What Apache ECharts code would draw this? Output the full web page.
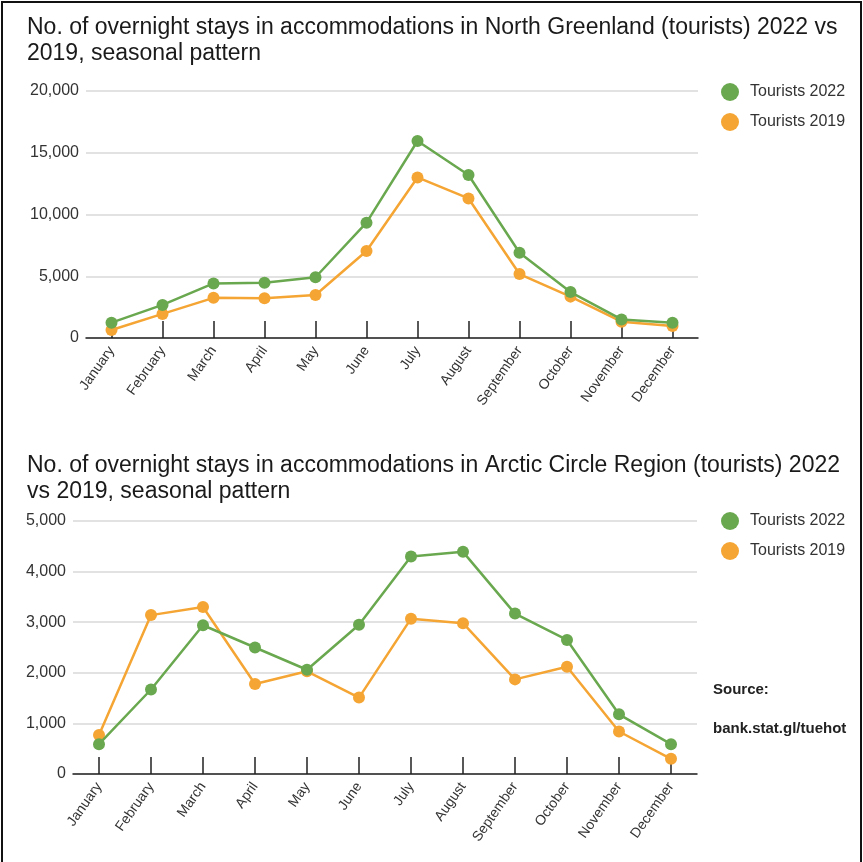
<!DOCTYPE html>
<html>
<head>
<meta charset="utf-8">
<title>Overnight stays in accommodations, 2022 vs 2019</title>
<script src="https://cdn.jsdelivr.net/npm/echarts@6/dist/echarts.min.js"></script>
<style>
  html, body { margin: 0; padding: 0; background: #fff; }
  #wrap { position: relative; width: 863px; height: 862px; }
  #chart { position: absolute; left: 0; top: 0; width: 863px; height: 862px; }
  #frame {
    position: absolute; left: 1px; top: 1px; width: 857px; height: 870px;
    border: 2px solid #111; pointer-events: none;
  }
</style>
</head>
<body>
<div id="wrap">
  <div id="chart"></div>
  <div id="frame"></div>
</div>
<script>
// Months shown on both category axes
const months = ['January', 'February', 'March', 'April', 'May', 'June',
  'July', 'August', 'September', 'October', 'November', 'December'];

// North Greenland, overnight stays (tourists)
const northGreenland2022 = [1240, 2680, 4420, 4480, 4920, 9340, 15950, 13200, 6900, 3720, 1500, 1230];
const northGreenland2019 = [650, 1950, 3250, 3220, 3480, 7040, 13000, 11300, 5180, 3350, 1320, 970];

// Arctic Circle Region, overnight stays (tourists)
const arcticCircle2022 = [590, 1670, 2940, 2500, 2060, 2950, 4300, 4390, 3170, 2650, 1180, 590];
const arcticCircle2019 = [770, 3140, 3300, 1780, 2030, 1510, 3070, 2980, 1870, 2120, 840, 300];

// Axis ranges
const northTicks = { min: 0, max: 20000, interval: 5000 };
const arcticTicks = { min: 0, max: 5000, interval: 1000 };

const seriesNames = ['Tourists 2022', 'Tourists 2019'];
const GREEN = '#6aa84f';
const ORANGE = '#f5a533';
const FONT = '"Liberation Sans", Arial, sans-serif';

const chart = echarts.init(document.getElementById('chart'), null, { renderer: 'canvas' });

function xAxisFor(gridIndex) {
  return {
    type: 'category',
    gridIndex,
    data: months,
    boundaryGap: true,
    axisLine: { show: true, lineStyle: { color: '#222', width: 1.5 } },
    axisTick: { show: true, inside: true, alignWithLabel: true, length: 17, lineStyle: { color: '#222', width: 1.5 } },
    axisLabel: { rotate: 55, fontFamily: FONT, fontSize: 14, color: '#333', margin: 10, interval: 0 },
    splitLine: { show: false }
  };
}

function yAxisFor(gridIndex, ticks) {
  return {
    type: 'value',
    gridIndex,
    min: ticks.min, max: ticks.max, interval: ticks.interval,
    axisLine: { show: false },
    axisTick: { show: false },
    axisLabel: {
      fontFamily: FONT, fontSize: 16, color: '#333', margin: 7,
      formatter: v => v.toLocaleString('en-US')
    },
    splitLine: { show: true, lineStyle: { color: '#d9d9d9', width: 1.5 } }
  };
}

function lineSeries(name, data, color, axisIndex, z) {
  return {
    name, type: 'line', data,
    xAxisIndex: axisIndex, yAxisIndex: axisIndex,
    symbol: 'circle', symbolSize: 12,
    z,
    lineStyle: { color, width: 2.5 },
    itemStyle: { color },
    emphasis: { disabled: true }
  };
}

function legendAt(top) {
  return {
    orient: 'vertical', left: 716, top,
    data: seriesNames,
    icon: 'circle', itemWidth: 18, itemHeight: 18, itemGap: 12,
    textStyle: { fontFamily: FONT, fontSize: 16, color: '#333', padding: [0, 0, 0, 6] },
    selectedMode: false
  };
}

chart.setOption({
  animation: false,
  color: [GREEN, ORANGE],
  title: [
    {
      text: 'No. of overnight stays in accommodations in North Greenland (tourists) 2022 vs\n2019, seasonal pattern',
      left: 22, top: 10,
      textStyle: { fontFamily: FONT, fontSize: 23, fontWeight: 'normal', color: '#1a1a1a', lineHeight: 26 }
    },
    {
      text: 'No. of overnight stays in accommodations in Arctic Circle Region (tourists) 2022\nvs 2019, seasonal pattern',
      left: 22, top: 448,
      textStyle: { fontFamily: FONT, fontSize: 23, fontWeight: 'normal', color: '#1a1a1a', lineHeight: 26 }
    }
  ],
  legend: [legendAt(78), legendAt(507)],
  grid: [
    { left: 86, right: 165, top: 91, height: 247 },
    { left: 73, right: 166, top: 521, height: 253 }
  ],
  xAxis: [xAxisFor(0), xAxisFor(1)],
  yAxis: [yAxisFor(0, northTicks), yAxisFor(1, arcticTicks)],
  series: [
    lineSeries(seriesNames[1], northGreenland2019, ORANGE, 0, 2),
    lineSeries(seriesNames[0], northGreenland2022, GREEN, 0, 3),
    lineSeries(seriesNames[1], arcticCircle2019, ORANGE, 1, 2),
    lineSeries(seriesNames[0], arcticCircle2022, GREEN, 1, 3)
  ],
  graphic: [
    {
      type: 'text', left: 713, top: 682,
      style: { text: 'Source:', font: 'bold 15px ' + FONT, fill: '#222' }
    },
    {
      type: 'text', left: 713, top: 721,
      style: { text: 'bank.stat.gl/tuehot', font: 'bold 15px ' + FONT, fill: '#222' }
    }
  ]
});
</script>
</body>
</html>
